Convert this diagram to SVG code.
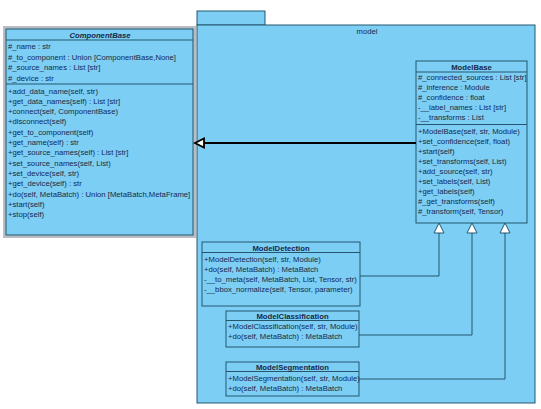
<svg xmlns="http://www.w3.org/2000/svg" width="541" height="409" viewBox="0 0 541 409">
<defs>
<style>
.box{fill:#7ccef4;stroke:#25566e;stroke-width:1}
.sep{stroke:#25566e;stroke-width:1}
text{font-family:"Liberation Sans",Arial,sans-serif;font-size:7.7px;fill:#16294a}
.h{font-weight:bold;text-anchor:middle}
.hi{font-weight:bold;font-style:italic;text-anchor:middle}
.gen{fill:none;stroke:#25566e;stroke-width:1}
.tri{fill:#ffffff;stroke:#25566e;stroke-width:1}
</style>
</defs>
<rect width="541" height="409" fill="#ffffff"/>
<g id="package-model">
<rect class="box" x="197" y="11" width="68" height="14"/>
<rect class="box" x="197" y="25" width="338" height="378"/>
<text x="367" y="34" style="text-anchor:middle">model</text>
</g>
<g id="ComponentBase">
<rect x="4.5" y="27.5" width="190" height="209" fill="none" stroke="#b9bcc0" stroke-width="3"/>
<rect class="box" x="6" y="29" width="187" height="206"/>
<line class="sep" x1="6" y1="40" x2="193" y2="40"/>
<line class="sep" x1="6" y1="84" x2="193" y2="84"/>
<text class="hi" x="100" y="37.5">ComponentBase</text>
<text x="8" y="49">#_name : str</text>
<text x="8" y="59.5">#_to_component : Union [ComponentBase,None]</text>
<text x="8" y="70">#_source_names : List [str]</text>
<text x="8" y="80.5">#_device : str</text>
<text x="8" y="93.5">+add_data_name(self, str)</text>
<text x="8" y="103.8">+get_data_names(self) : List [str]</text>
<text x="8" y="114.1">+connect(self, ComponentBase)</text>
<text x="8" y="124.4">+disconnect(self)</text>
<text x="8" y="134.7">+get_to_component(self)</text>
<text x="8" y="145">+get_name(self) : str</text>
<text x="8" y="155.3">+get_source_names(self) : List [str]</text>
<text x="8" y="165.6">+set_source_names(self, List)</text>
<text x="8" y="175.9">+set_device(self, str)</text>
<text x="8" y="186.2">+get_device(self) : str</text>
<text x="8" y="196.5">+do(self, MetaBatch) : Union [MetaBatch,MetaFrame]</text>
<text x="8" y="206.8">+start(self)</text>
<text x="8" y="217.1">+stop(self)</text>
</g>
<g id="ModelBase">
<rect class="box" x="416" y="61" width="111" height="162"/>
<line class="sep" x1="416" y1="72" x2="527" y2="72"/>
<line class="sep" x1="416" y1="124.5" x2="527" y2="124.5"/>
<text class="h" x="471.5" y="70">ModelBase</text>
<text x="418" y="80">#_connected_sources : List [str]</text>
<text x="418" y="90">#_inference : Module</text>
<text x="418" y="100">#_confidence : float</text>
<text x="418" y="110">-__label_names : List [str]</text>
<text x="418" y="120">-__transforms : List</text>
<text x="418" y="133.5">+ModelBase(self, str, Module)</text>
<text x="418" y="143.5">+set_confidence(self, float)</text>
<text x="418" y="153.5">+start(self)</text>
<text x="418" y="163.5">+set_transforms(self, List)</text>
<text x="418" y="173.5">+add_source(self, str)</text>
<text x="418" y="183.5">+set_labels(self, List)</text>
<text x="418" y="193.5">+get_labels(self)</text>
<text x="418" y="203.5">#_get_transforms(self)</text>
<text x="418" y="213.5">#_transform(self, Tensor)</text>
</g>
<g id="ModelDetection">
<rect class="box" x="202" y="242" width="158" height="64"/>
<line class="sep" x1="202" y1="252.5" x2="360" y2="252.5"/>
<text class="h" x="281" y="250.5">ModelDetection</text>
<text x="204" y="261.5">+ModelDetection(self, str, Module)</text>
<text x="204" y="271.5">+do(self, MetaBatch) : MetaBatch</text>
<text x="204" y="281.5">-__to_meta(self, MetaBatch, List, Tensor, str)</text>
<text x="204" y="291.5">-__bbox_normalize(self, Tensor, parameter)</text>
</g>
<g id="ModelClassification">
<rect class="box" x="226" y="311" width="133" height="36"/>
<line class="sep" x1="226" y1="320.5" x2="359" y2="320.5"/>
<text class="h" x="292.5" y="318.5">ModelClassification</text>
<text x="228" y="328.5">+ModelClassification(self, str, Module)</text>
<text x="228" y="338.5">+do(self, MetaBatch) : MetaBatch</text>
</g>
<g id="ModelSegmentation">
<rect class="box" x="226" y="362" width="133" height="34"/>
<line class="sep" x1="226" y1="371.5" x2="359" y2="371.5"/>
<text class="h" x="292.5" y="369.5">ModelSegmentation</text>
<text x="228" y="381">+ModelSegmentation(self, str, Module)</text>
<text x="228" y="391">+do(self, MetaBatch) : MetaBatch</text>
</g>
<g id="connectors">
<polyline class="gen" points="360,276 439,276 439,233"/>
<polygon class="tri" points="439,223 434,233 444,233"/>
<polyline class="gen" points="359,335 472,335 472,233"/>
<polygon class="tri" points="472,223 467,233 477,233"/>
<polyline class="gen" points="359,379 505,379 505,233"/>
<polygon class="tri" points="505,223 500,233 510,233"/>
<line x1="416" y1="143" x2="204" y2="143" stroke="#000000" stroke-width="2"/>
<polygon points="195,143 204,138.5 204,147.5" fill="#ffffff" stroke="#000000" stroke-width="1.8"/>
</g>
</svg>
